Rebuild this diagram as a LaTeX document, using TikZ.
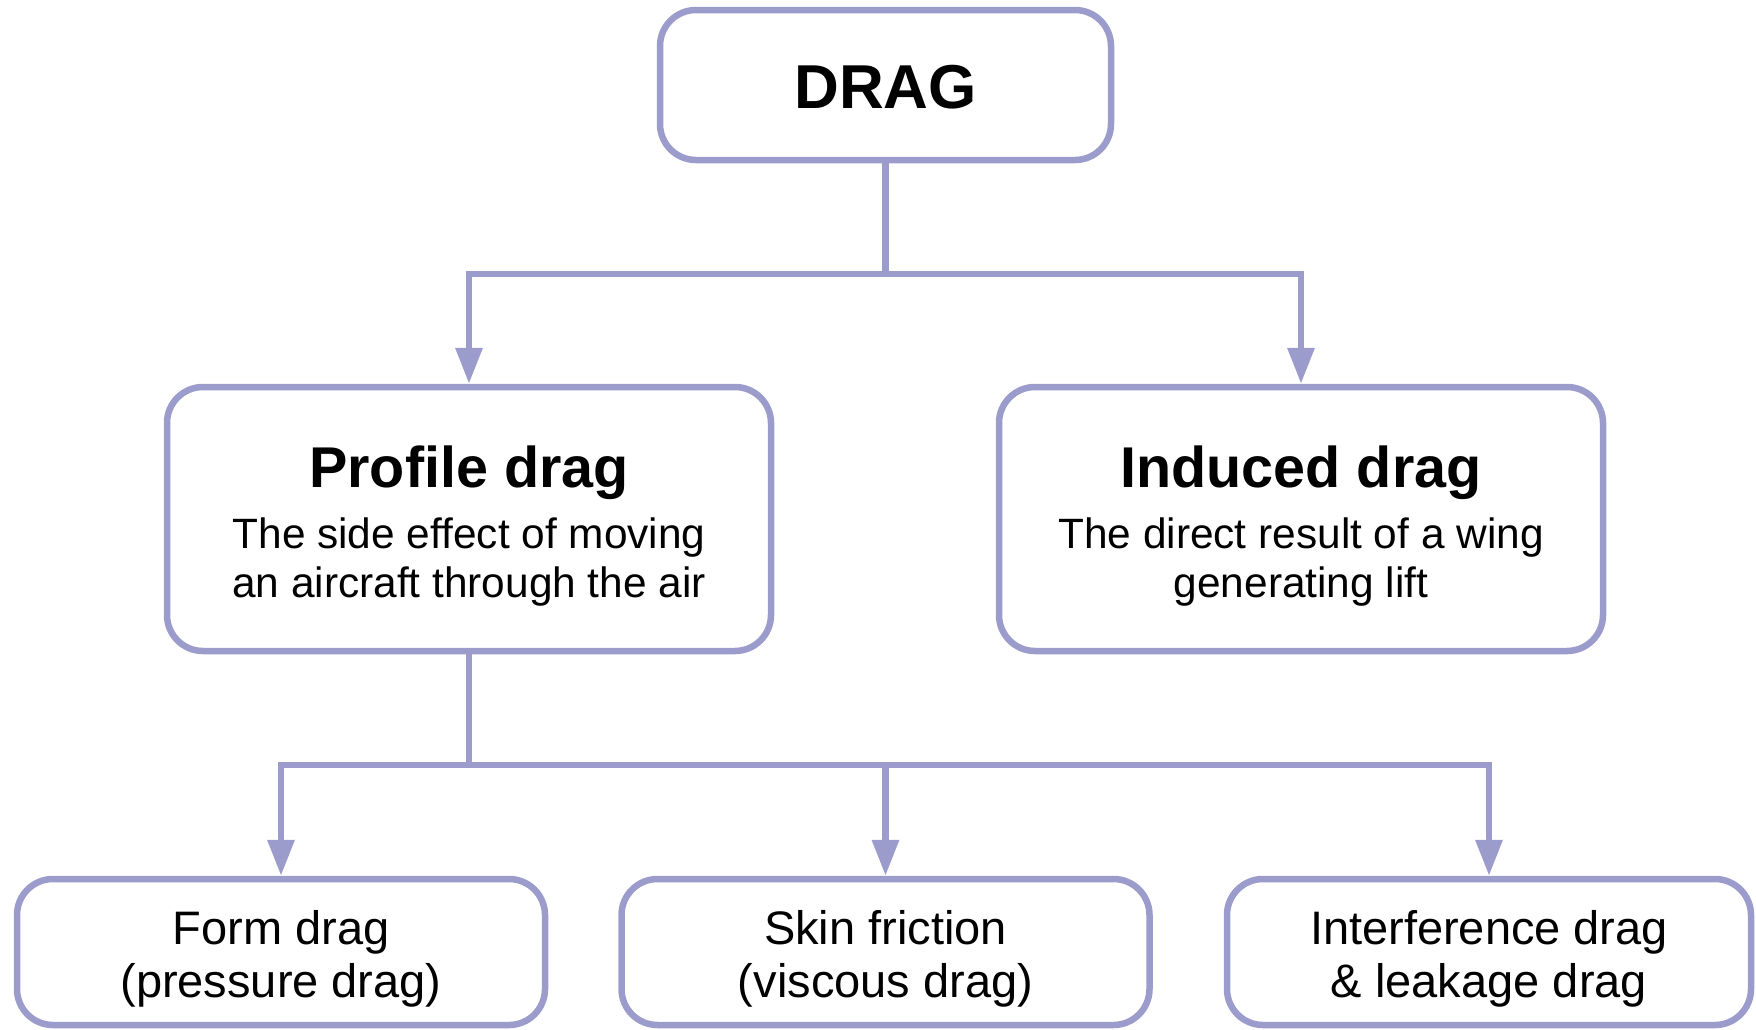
\documentclass[tikz,border=0pt]{standalone}
\usepackage{fontspec}
\setmainfont{Liberation Sans}
\usetikzlibrary{arrows.meta}
\definecolor{lav}{RGB}{155,155,204}
\begin{document}
\begin{tikzpicture}[x=1pt,y=-1pt,
  box/.style={draw=lav, line width=6.5pt, fill=white, rounded corners=36pt, rectangle, inner sep=0pt},
  conn/.style={draw=lav, line width=6.5pt},
  arr/.style={conn, -{Triangle[length=36pt,width=26pt]}},
  big/.style={anchor=base, inner sep=0pt, font=\fontsize{62}{70}\selectfont\bfseries},
  ttl/.style={anchor=base, inner sep=0pt, font=\fontsize{57.5}{64}\selectfont\bfseries},
  desc/.style={anchor=base, inner sep=0pt, font=\fontsize{42.4}{48}\selectfont},
  leaf/.style={anchor=base, inner sep=0pt, font=\fontsize{47}{53}\selectfont}]
\useasboundingbox (0,0) rectangle (1756,1029);

% boxes
\node[box, minimum width=451pt, minimum height=150pt] (drag) at (885.5,85) {};
\node[box, minimum width=604pt, minimum height=264pt] (profile) at (469,519) {};
\node[box, minimum width=604pt, minimum height=264pt] (induced) at (1301,519) {};
\node[box, minimum width=528pt, minimum height=146pt] (form) at (281,952) {};
\node[box, minimum width=528pt, minimum height=146pt] (skin) at (885.5,952) {};
\node[box, minimum width=524pt, minimum height=146pt] (interf) at (1489,952) {};

% texts
\node[big] (tdrag) at (885.5,108) {DRAG};
\node[ttl] (tprof) at (469,487) {Profile drag};
\node[desc] (dprofa) at (469,548) {The side effect of moving};
\node[desc] (dprofb) at (469,597) {an aircraft through the air};
\node[ttl] (tind) at (1301,487) {Induced drag};
\node[desc] (dinda) at (1301,548) {The direct result of a wing};
\node[desc] (dindb) at (1301,597) {generating lift};
\node[leaf] (fa) at (281,944) {Form drag};
\node[leaf] (fb) at (281,997) {(pressure drag)};
\node[leaf] (sa) at (885.5,944) {Skin friction};
\node[leaf] (sb) at (885.5,997) {(viscous drag)};
\node[leaf] (ia) at (1489,944) {Interference drag};
\node[leaf] (ib) at (1489,997) {\& leakage drag};

% junctions
\coordinate (j1) at (885.5,274);
\coordinate (j2) at (469,765);

% connectors
\draw[conn] (drag.south) -- (j1);
\draw[arr] (j1) -| (profile.north);
\draw[arr] (j1) -| (induced.north);
\draw[conn] (profile.south) -- (j2);
\draw[arr] (j2) -| (form.north);
\draw[arr] (j2) -| (skin.north);
\draw[arr] (j2) -| (interf.north);
\end{tikzpicture}
\end{document}
